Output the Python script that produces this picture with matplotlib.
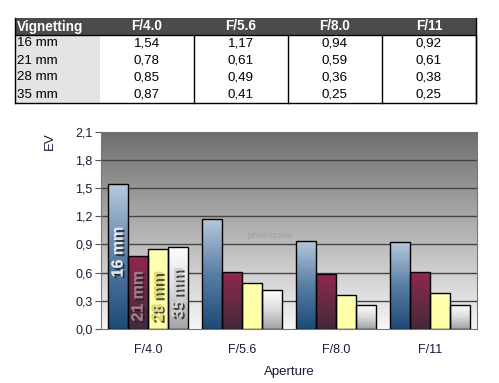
import numpy as np
import matplotlib
matplotlib.use("Agg")
import matplotlib.pyplot as plt
from matplotlib.colors import LinearSegmentedColormap
from matplotlib.patches import Rectangle
import matplotlib.patheffects as pe

apertures = ["F/4.0", "F/5.6", "F/8.0", "F/11"]
series = ["16 mm", "21 mm", "28 mm", "35 mm"]
v16 = [1.54, 1.17, 0.94, 0.92]
v21 = [0.78, 0.61, 0.59, 0.61]
v28 = [0.85, 0.49, 0.36, 0.38]
v35 = [0.87, 0.41, 0.25, 0.25]
values = [v16, v21, v28, v35]
yticks = [0.0, 0.3, 0.6, 0.9, 1.2, 1.5, 1.8, 2.1]

plt.rcParams['font.family'] = ['Liberation Sans', 'DejaVu Sans']

W, H = 499, 383
fig = plt.figure(figsize=(W / 100, H / 100), dpi=100)

def fx(px):
    return px / W

def fy(py):
    return 1 - py / H

# ---------- table ----------
tl, tr = 15, 476
col_edges = [15, 100, 194, 288, 382, 476]
row_edges = [18, 35, 52, 69, 86, 103]
fig.patches.append(Rectangle((fx(tl), fy(35)), fx(tr - tl), (35 - 18) / H,
                             transform=fig.transFigure, facecolor="#4b4b4b",
                             edgecolor="none", zorder=1))
fig.patches.append(Rectangle((fx(tl), fy(103)), fx(100 - tl), (103 - 35) / H,
                             transform=fig.transFigure, facecolor="#e4e4e4",
                             edgecolor="none", zorder=1))
lw = 1.0
fig.add_artist(plt.Line2D([fx(tl), fx(tr)], [fy(103), fy(103)], color="black", lw=lw))
fig.add_artist(plt.Line2D([fx(tl), fx(tr)], [fy(35), fy(35)], color="black", lw=lw))
fig.add_artist(plt.Line2D([fx(tl), fx(tl)], [fy(18), fy(103)], color="black", lw=lw))
for cx in col_edges[2:]:
    fig.add_artist(plt.Line2D([fx(cx), fx(cx)], [fy(35), fy(103)], color="black", lw=lw))
fig.add_artist(plt.Line2D([fx(tr), fx(tr)], [fy(18), fy(103)], color="black", lw=lw))

fig.text(fx(17), fy(26.5), "Vignetting", color="white", fontsize=9.8, fontweight="bold",
         ha="left", va="center")
for j, ap in enumerate(apertures):
    cx = (col_edges[j + 1] + col_edges[j + 2]) / 2
    fig.text(fx(cx), fy(26.5), ap, color="white", fontsize=9.8, fontweight="bold",
             ha="center", va="center")
for i, s in enumerate(series):
    cy = (row_edges[i + 1] + row_edges[i + 2]) / 2
    fig.text(fx(17), fy(cy), s, color="black", fontsize=9.6, ha="left", va="center")
    for j in range(len(apertures)):
        cx = (col_edges[j + 1] + col_edges[j + 2]) / 2
        fig.text(fx(cx), fy(cy), f"{values[i][j]:.2f}".replace(".", ","),
                 color="black", fontsize=9.6, ha="center", va="center")

# ---------- chart ----------
ax = fig.add_axes([fx(101), fy(329), fx(477 - 101), (329 - 131.5) / H])
ax.set_xlim(-0.5, len(apertures) - 0.5)
ax.set_ylim(0, 2.1)

bg = LinearSegmentedColormap.from_list("bg", ["#f6f6f6", "#6e6e6e"])
grad = np.linspace(0, 1, 256).reshape(-1, 1)
ax.imshow(grad, extent=(-0.5, len(apertures) - 0.5, 0, 2.1), origin="lower",
          cmap=bg, aspect="auto", zorder=0)

for t in yticks[1:]:
    ax.axhline(t, color="#444444", lw=1.0, zorder=1)

# faint watermark
ax.text(1.3, 0.99, "photozone", fontsize=6.5, fontweight="bold", color="#8a9aa8",
        alpha=0.5, ha="center", va="center", zorder=1)

cmaps = [
    LinearSegmentedColormap.from_list("c16", ["#1e4a78", "#5a7fa6", "#b8c9de"]),
    LinearSegmentedColormap.from_list("c21", ["#45283a", "#6a2a44", "#93264e"]),
    LinearSegmentedColormap.from_list("c28", ["#ffffa8", "#ffffa8", "#ffffb4"]),
    LinearSegmentedColormap.from_list("c35", ["#a4a4a4", "#dcdcdc", "#ffffff"]),
]
bw = 0.213
x = np.arange(len(apertures))
offsets = (np.arange(4) - 1.5) * bw
for k in range(4):
    bars = ax.bar(x + offsets[k], values[k], width=bw, facecolor="none",
                  edgecolor="black", linewidth=1.0, zorder=3)
    for b in bars:
        x0 = b.get_x()
        im = ax.imshow(grad, extent=(x0, x0 + b.get_width(), 0, 2.1), origin="lower",
                       cmap=cmaps[k], aspect="auto", zorder=2,
                       vmin=0, vmax=b.get_height() / 2.1)
        im.set_clip_path(b)

label_y = [0.82, 0.35, 0.35, 0.39]
label_col = ["#dbe3ee", "#a07a8a", "#e0d878", "#d0d0d0"]
for k in range(4):
    ax.text(x[0] + offsets[k], label_y[k], series[k], rotation=90, ha="center",
            va="center", fontsize=11.5, fontweight="bold", color=label_col[k], zorder=5,
            path_effects=[pe.withSimplePatchShadow(offset=(1.5, -1.5), shadow_rgbFace="#202020", alpha=0.8),
                          pe.Normal()])

ax.set_xticks(x)
ax.set_xticklabels(apertures)
ax.set_yticks(yticks)
ax.set_yticklabels([f"{t:.1f}".replace(".", ",") for t in yticks])
ax.tick_params(axis="both", labelsize=9, colors="#1a1a3a", length=4, width=0.8)
ax.tick_params(axis="x", length=0, pad=11)
ax.tick_params(axis="y", colors="#555555", labelcolor="#1a1a3a", pad=2)
for sp in ["top", "right", "left", "bottom"]:
    ax.spines[sp].set_color("#777777")
ax.set_xlabel("Aperture", fontsize=9.5, color="#1a1a3a", labelpad=7)
ax.set_ylabel("EV", fontsize=9.5, color="#1a1a3a")
ax.yaxis.set_label_coords(-0.12, 0.95)

fig.savefig("out.png", dpi=100)
